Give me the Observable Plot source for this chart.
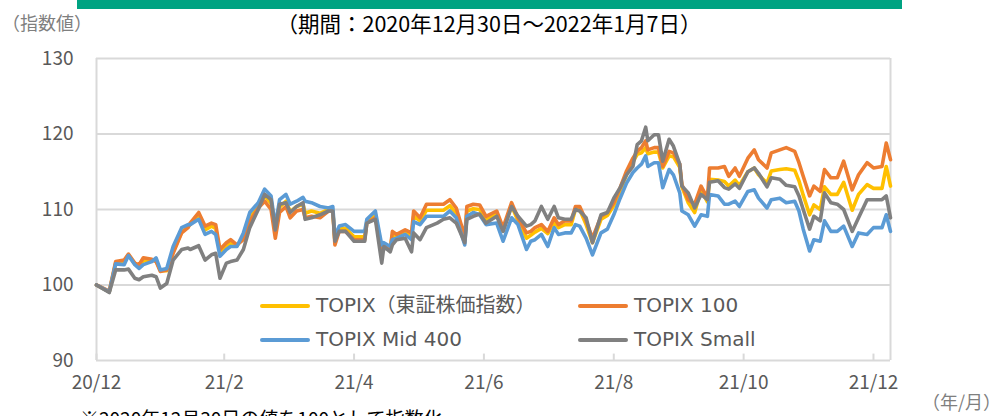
<!DOCTYPE html>
<html><head><meta charset="utf-8">
<script src="https://cdn.jsdelivr.net/npm/d3@7"></script>
<script src="https://cdn.jsdelivr.net/npm/@observablehq/plot@0.6"></script>
<style>
html,body{margin:0;padding:0;background:#fff;width:991px;height:416px;overflow:hidden;}
#wrap{position:relative;width:991px;height:416px;font-family:"Noto Sans CJK JP",sans-serif;}
.abs{position:absolute;white-space:nowrap;line-height:1;}
#chart{position:absolute;left:0;top:0;}
.leg{position:absolute;white-space:nowrap;font-family:"DejaVu Sans","Noto Sans CJK JP",sans-serif;font-size:20px;color:#595959;line-height:1;}
.legline{position:absolute;height:4px;border-radius:2px;}
</style></head><body><div id="wrap"><div id="chart"></div></div>
<script>
const dates = ["2020-12-30","2021-01-05","2021-01-08","2021-01-12","2021-01-14","2021-01-17","2021-01-19","2021-01-21","2021-01-25","2021-01-27","2021-01-29","2021-02-01","2021-02-04","2021-02-08","2021-02-11","2021-02-12","2021-02-16","2021-02-19","2021-02-22","2021-02-24","2021-02-26","2021-03-01","2021-03-03","2021-03-06","2021-03-09","2021-03-12","2021-03-16","2021-03-19","2021-03-22","2021-03-24","2021-03-26","2021-03-29","2021-03-31","2021-04-03","2021-04-06","2021-04-07","2021-04-10","2021-04-14","2021-04-18","2021-04-20","2021-04-21","2021-04-23","2021-04-26","2021-04-30","2021-05-05","2021-05-06","2021-05-10","2021-05-13","2021-05-14","2021-05-17","2021-05-18","2021-05-20","2021-05-24","2021-05-27","2021-05-28","2021-05-31","2021-06-03","2021-06-08","2021-06-11","2021-06-14","2021-06-17","2021-06-21","2021-06-22","2021-06-25","2021-06-28","2021-07-01","2021-07-06","2021-07-09","2021-07-13","2021-07-16","2021-07-20","2021-07-22","2021-07-24","2021-07-27","2021-07-30","2021-08-02","2021-08-04","2021-08-07","2021-08-10","2021-08-12","2021-08-14","2021-08-17","2021-08-20","2021-08-24","2021-08-27","2021-08-30","2021-09-02","2021-09-05","2021-09-08","2021-09-10","2021-09-12","2021-09-14","2021-09-15","2021-09-18","2021-09-20","2021-09-22","2021-09-25","2021-09-27","2021-09-30","2021-10-01","2021-10-04","2021-10-07","2021-10-10","2021-10-13","2021-10-14","2021-10-18","2021-10-21","2021-10-23","2021-10-26","2021-10-28","2021-11-01","2021-11-04","2021-11-06","2021-11-10","2021-11-12","2021-11-16","2021-11-19","2021-11-23","2021-11-25","2021-11-27","2021-11-30","2021-12-02","2021-12-05","2021-12-07","2021-12-10","2021-12-13","2021-12-16","2021-12-20","2021-12-23","2021-12-27","2021-12-30","2022-01-03","2022-01-05","2022-01-07"];

const topix = [100,99.1,102.9,103.0,104.0,102.8,102.5,103.2,103.3,103.2,101.9,101.9,104.4,107.0,107.7,108.0,109.2,107.3,107.8,107.5,104.3,105.2,105.6,105.2,106.4,108.9,110.5,111.8,110.8,107.0,110.3,111.1,109.7,110.4,110.7,109.5,109.8,109.5,110.0,110.0,105.8,107.4,107.5,106.4,106.4,108.4,109.3,104.9,105.3,104.9,106.6,106.4,107.0,106.5,109.1,108.5,109.9,109.9,109.9,110.5,109.5,105.9,109.8,110.1,110.0,108.6,109.5,107.2,110.5,108.5,106.2,106.6,107.0,107.5,106.8,108.3,107.6,108.0,108.0,110.0,110.0,108.0,105.6,108.7,109.2,110.5,112.5,114.6,116.3,117.3,117.5,118.2,117.4,117.6,117.6,115.5,117.1,117.0,115.6,113.0,110.9,109.6,112.6,111.0,114.0,113.9,113.7,113.1,113.9,113.2,115.0,115.5,114.6,113.5,115.1,115.3,115.4,115.2,113.8,111.9,109.3,110.6,110.0,113.0,112.0,112.0,113.6,109.9,112.0,113.3,112.8,112.8,115.7,113.1];

const topix100 = [100,99.2,103.1,103.3,104.1,102.9,102.7,103.6,103.4,103.1,101.8,102.0,104.2,106.9,107.6,108.2,109.6,107.8,108.2,108.0,104.7,105.6,106.0,105.3,106.0,108.4,110.2,111.1,110.0,106.2,109.6,110.4,108.9,109.8,110.0,108.9,109.1,108.9,109.8,109.8,105.3,107.1,107.1,106.0,106.0,108.2,108.9,104.7,105.1,104.7,107.1,106.7,107.3,106.9,109.8,108.9,110.7,110.7,110.7,111.3,110.2,106.4,110.4,110.7,110.6,109.1,109.8,107.6,110.9,108.9,106.9,107.1,107.6,108.0,107.1,108.9,108.0,108.5,108.5,110.4,110.4,108.5,106.2,109.1,109.6,110.9,112.9,115.1,116.8,117.7,118.2,119.1,117.9,118.2,118.2,115.7,117.7,117.5,116.0,113.3,111.3,110.7,113.1,111.5,115.5,115.5,115.7,114.4,115.5,114.4,116.8,117.9,116.6,115.5,117.5,117.9,118.2,117.7,116.2,114.4,111.8,113.1,112.4,115.3,114.2,114.2,116.4,112.6,114.6,116.2,115.5,115.7,118.8,116.6];

const mid400 = [100,99.1,102.8,102.7,103.9,102.7,102.2,102.7,103.1,103.6,102.0,102.2,105.1,107.6,108.0,108.0,108.7,106.7,107.1,106.7,103.8,104.7,105.1,105.1,106.9,109.6,110.9,112.7,111.8,107.8,111.3,112.0,110.7,111.1,111.6,111.1,110.9,110.4,110.2,110.4,106.4,107.8,108.0,107.1,107.1,108.7,109.8,105.3,105.6,105.1,106.0,106.2,106.7,106.0,108.4,108.0,109.1,109.1,109.1,109.8,108.9,105.3,109.1,109.6,109.3,108.0,108.2,105.8,108.9,108.0,104.7,105.8,106.0,106.7,105.1,107.6,106.7,106.9,106.9,108.0,107.8,106.2,104.0,106.9,107.4,109.3,111.5,113.5,114.9,115.5,116.0,117.1,115.7,116.2,116.2,112.9,115.3,114.6,112.2,109.8,109.3,107.8,109.3,109.1,112.0,111.8,110.7,110.7,111.1,110.4,112.4,112.6,111.5,110.2,111.3,111.5,110.9,111.1,109.8,107.4,104.5,106.0,105.8,108.5,107.1,107.1,107.8,105.1,106.9,106.7,107.6,107.6,109.3,107.1];

const small = [100,99.0,102.0,102.0,102.1,100.9,100.7,101.1,101.3,101.1,99.6,100.2,103.3,104.7,104.9,104.7,105.2,103.3,104.0,104.2,100.9,102.9,103.1,103.3,104.7,107.6,110.0,112.0,111.3,107.3,110.7,110.9,109.6,110.4,110.9,108.7,108.9,109.3,109.8,109.8,105.8,107.1,107.1,105.8,105.8,108.2,108.7,102.9,105.1,104.4,105.3,106.0,106.2,104.4,106.9,106.0,107.6,108.2,108.7,108.9,108.2,105.6,108.7,109.1,109.4,108.2,109.1,107.1,110.4,109.1,107.8,108.0,108.5,110.4,108.7,110.4,108.9,108.7,108.7,110.0,109.8,108.9,105.6,109.3,109.6,111.5,112.9,114.6,115.7,118.6,119.1,120.9,119.1,119.9,119.9,116.4,119.3,118.4,116.0,113.1,112.2,110.2,112.0,111.3,113.6,113.8,112.9,112.7,113.4,112.8,115.0,115.5,114.8,113.0,114.2,114.0,113.2,113.0,111.8,110.0,107.4,109.1,108.5,112.2,110.9,110.7,110.0,107.1,108.9,111.3,111.3,111.3,111.8,108.9];

const seriesNames = ["TOPIX（東証株価指数）", "TOPIX 100", "TOPIX Mid 400", "TOPIX Small"];
const seriesValues = [topix, topix100, mid400, small];
const seriesColors = ["#FFC000", "#ED7D31", "#5B9BD5", "#808080"];

const yTicks = [90, 100, 110, 120, 130];
const xTickDates = ["2020-12-30","2021-02-28","2021-04-30","2021-06-30","2021-08-30","2021-10-30","2021-12-30"];
const xTickLabels = ["20/12","21/2","21/4","21/6","21/8","21/10","21/12"];
const xDomain = ["2020-12-30", "2022-01-07"];

const subtitle = "（期間：2020年12月30日～2022年1月7日）";
const yLabel = "（指数値）";
const xLabel = "（年/月）";
const footnote = "※2020年12月30日の値を100として指数化";

const parse = d3.utcParse("%Y-%m-%d");
const rows = [];
seriesNames.forEach((name, i) => {
  dates.forEach((d, j) => rows.push({date: parse(d), value: seriesValues[i][j], series: name}));
});
const tickDates = xTickDates.map(parse);

const plot = Plot.plot({
  width: 991,
  height: 416,
  marginLeft: 96,
  marginRight: 101,
  marginTop: 58,
  marginBottom: 56,
  style: {fontFamily: "'Noto Sans CJK JP', sans-serif", fontSize: "19px", color: "#595959", background: "transparent"},
  x: {type: "utc", domain: xDomain.map(parse), label: null, axis: null},
  y: {domain: [90, 130], label: null},
  color: {domain: seriesNames, range: seriesColors},
  marks: [
    Plot.gridY(yTicks, {stroke: "#d9d9d9", strokeOpacity: 1, strokeWidth: 2}),
    Plot.ruleX([xDomain[0], xDomain[1]].map(parse), {stroke: "#d9d9d9", strokeWidth: 2}),
    Plot.ruleX(tickDates, {y1: 90, y2: 90.85, stroke: "#d9d9d9", strokeWidth: 2}),
    Plot.axisY(yTicks, {tickSize: 0, tickPadding: 23, fontSize: 19, label: null}),
    Plot.text(tickDates, {x: d => d, text: (d, i) => xTickLabels[i], frameAnchor: "bottom", dy: 28, fontSize: 19, fill: "#595959"}),
    Plot.line(rows, {x: "date", y: "value", z: "series", stroke: "series", strokeWidth: 3.6, strokeLinejoin: "round", strokeLinecap: "round"})
  ]
});
const wrap = document.getElementById("wrap");
document.getElementById("chart").appendChild(plot);

function addText(text, css) {
  const el = document.createElement("div");
  el.className = "abs";
  el.textContent = text;
  Object.assign(el.style, css);
  wrap.appendChild(el);
  return el;
}
const bar = document.createElement("div");
Object.assign(bar.style, {position: "absolute", left: "77px", top: "0px", width: "825px", height: "9px", background: "#00A382"});
wrap.appendChild(bar);

addText(subtitle, {left: "0px", width: "978px", textAlign: "center", top: "12px", fontSize: "21.5px", color: "#000"});
addText(yLabel, {left: "2px", top: "13px", fontSize: "18px", color: "#7f7f7f"});
addText(xLabel, {left: "922px", top: "392px", fontSize: "18px", color: "#7f7f7f"});
addText(footnote, {left: "80px", top: "408px", fontSize: "19px", color: "#000"});

const legendPos = [[260, 306], [578, 306], [260, 340], [578, 340]];
seriesNames.forEach((name, i) => {
  const [lx, ly] = legendPos[i];
  const ln = document.createElement("div");
  ln.className = "legline";
  Object.assign(ln.style, {left: lx + "px", top: (ly - 2) + "px", width: "50px", background: seriesColors[i]});
  wrap.appendChild(ln);
  const t = document.createElement("div");
  t.className = "leg";
  t.textContent = name;
  Object.assign(t.style, {left: (lx + 56) + "px", top: (ly - 11) + "px"});
  wrap.appendChild(t);
});
</script></body></html>
